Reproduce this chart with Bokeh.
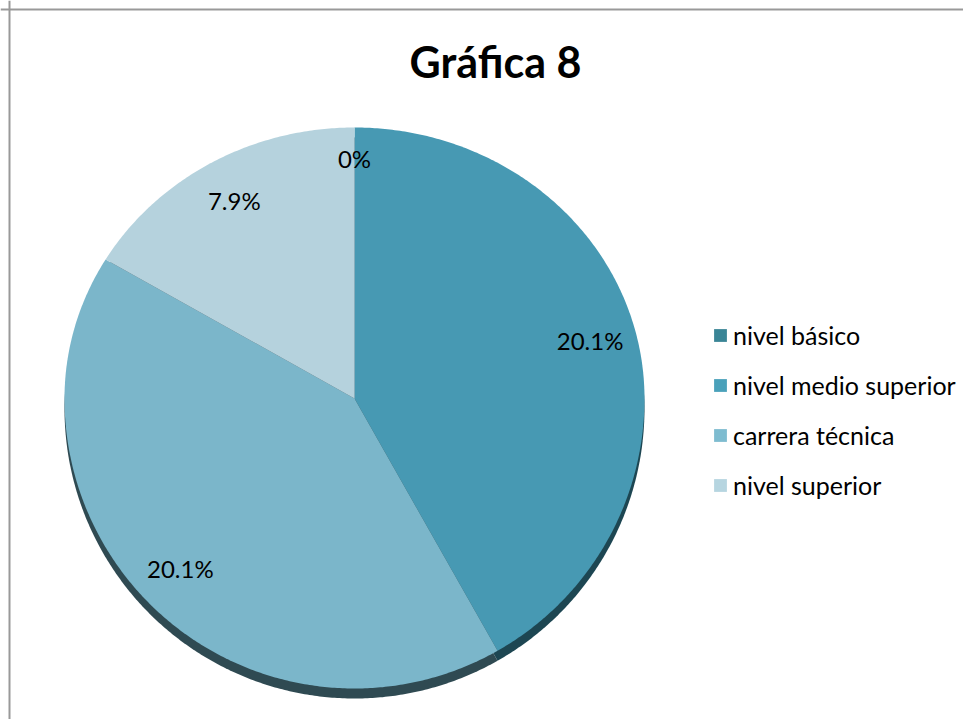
import math
from bokeh.plotting import figure
from bokeh.models import Range1d, Legend, LegendItem, Label, Span, ColumnDataSource
from bokeh.core.properties import value
from bokeh.embed import file_html
from bokeh.resources import INLINE

# ---- data ----
categories = ["nivel básico", "nivel medio superior", "carrera técnica", "nivel superior"]
values = [0.0, 20.1, 20.1, 7.9]
value_labels = ["0%", "20.1%", "20.1%", "7.9%"]
title_text = "Gráfica 8"

# ---- styles ----
face_colors = ["#3A8596", "#4799B3", "#7BB6CA", "#B5D2DD"]
legend_colors = ["#3A8596", "#4AA1BA", "#7EBCD0", "#B6D5E0"]
shadow_colors = ["#1F4B56", "#1D4652", "#2F4A52", "#3E5961"]
FONT = "Lato"

W, H = 963, 719
p = figure(width=W, height=H, x_range=Range1d(0, W), y_range=Range1d(H, 0),
           output_backend="svg", toolbar_location=None, min_border=0,
           x_axis_type=None, y_axis_type=None)
p.grid.visible = False
p.outline_line_color = None
p.background_fill_color = "white"

# pie geometry (pixel-like data units, y grows downward)
CX, CY = 354, 398
RX, RY_TOP, RY_BOT = 290, 271, 290
DEPTH = 10


def ell(theta_deg, k=1.0):
    t = math.radians(theta_deg)
    c = math.cos(t)
    ry = RY_TOP if c > 0 else RY_BOT
    return CX + k * RX * math.sin(t), CY - k * ry * c


total = sum(values)
starts, ends = [], []
a = 0.0
for v in values:
    starts.append(a)
    a += v / total * 360.0
    ends.append(a)

xs, ys, sxs, sys_ = [], [], [], []
for s, e in zip(starts, ends):
    n = max(2, int((e - s) / 0.5) + 2)
    px, py = [CX], [CY]
    for i in range(n):
        th = s + (e - s) * i / (n - 1)
        x, y = ell(th)
        px.append(x)
        py.append(y)
    xs.append(px)
    ys.append(py)
    sxs.append(px)
    sys_.append([y + DEPTH for y in py])

# shadow (3D depth)
p.patches(xs=sxs, ys=sys_, fill_color=shadow_colors, line_color=None)

for i in range(len(values)):
    p.patches(xs=[xs[i]], ys=[ys[i]], fill_color=face_colors[i], line_color=None)

# legend carriers with legend colours (degenerate shapes)
leg_r = []
for i in range(len(values)):
    r = p.patches(xs=[[CX]], ys=[[CY]], fill_color=legend_colors[i], line_color=None)
    leg_r.append(r)

# value labels
lx, ly = [], []
for s, e in zip(starts, ends):
    x, y = ell((s + e) / 2.0, 0.84)
    lx.append(x)
    ly.append(y)
ly[0] = ly[0] - 12  # the zero slice label sits a bit higher (outer edge)
src = ColumnDataSource(dict(x=lx, y=ly, t=value_labels))
p.text(x="x", y="y", text="t", source=src, text_align="center", text_baseline="middle",
       text_font=value(FONT), text_font_size="24px", text_color="#000000")

# title
p.add_layout(Label(x=495, y=61, text=title_text, text_align="center", text_baseline="middle",
                   text_font=FONT, text_font_style="bold", text_font_size="43px",
                   text_color="#000000"))

# legend
items = [LegendItem(label=categories[i], renderers=[leg_r[i]]) for i in range(len(values))]
legend = Legend(items=items, location=(712, 219), orientation="vertical",
                label_text_font=FONT, label_text_font_size="25px", label_text_color="#000000",
                glyph_width=16, glyph_height=16, label_height=28, label_standoff=5,
                spacing=20, padding=0, margin=0, border_line_color=None,
                background_fill_color=None)
p.add_layout(legend)

# chart frame border (top and left visible in reference)
p.add_layout(Span(location=9, dimension="width", line_color="#999999", line_width=2))
p.add_layout(Span(location=9, dimension="height", line_color="#999999", line_width=2))

open("out.html", "w").write(file_html(p, INLINE))
